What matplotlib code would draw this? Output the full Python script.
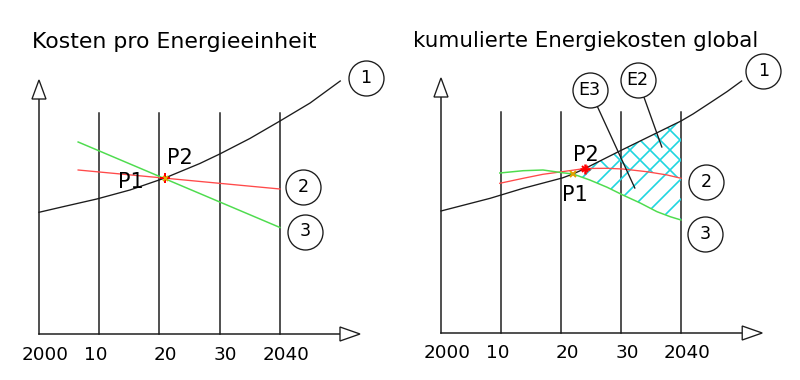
import matplotlib
matplotlib.use("Agg")
import matplotlib.pyplot as plt
from matplotlib.patches import Polygon
import numpy as np

plt.rcParams["font.family"] = ["DejaVu Sans"]

# --- data -------------------------------------------------------------
tick_years = [2000, 2010, 2020, 2030, 2040]
tick_labels = ["2000", "10", "20", "30", "2040"]

# left: Kosten pro Energieeinheit
l_k1_x = [2000, 2004.0, 2009.6, 2015.1, 2020.9, 2026.7, 2030.0, 2035.0, 2040, 2045.0, 2050.0]
l_k1_y = [12.17, 12.73, 13.5, 14.4, 15.6, 17.05, 18.0, 19.55, 21.3, 23.1, 25.3]
l_k2_x = [2006.5, 2040]
l_k2_y = [16.4, 14.5]
l_k3_x = [2006.5, 2040]
l_k3_y = [19.2, 10.65]
l_p = (2020.9, 15.6)

# right: kumulierte Energiekosten global
r_k1_x = [2000, 2008.2, 2013.7, 2020.2, 2022, 2024, 2029.8, 2040, 2042, 2044.8, 2047.7, 2050.1]
r_k1_y = [12.2, 13.47, 14.47, 15.5, 15.9, 16.45, 18.2, 21.2, 21.9, 23.0, 24.15, 25.2]
r_k2_x = [2009.8, 2013.7, 2017.0, 2020.2, 2024, 2027.7, 2030.3, 2034.3, 2037.7, 2040]
r_k2_y = [14.97, 15.47, 15.87, 16.13, 16.45, 16.47, 16.4, 16.13, 15.8, 15.47]
r_k3_x = [2009.8, 2013.7, 2017.0, 2020.2, 2022, 2024.8, 2027.7, 2030.3, 2033.2, 2036.0, 2038.2, 2040]
r_k3_y = [16.0, 16.23, 16.3, 16.03, 15.9, 15.3, 14.57, 13.8, 13.0, 12.13, 11.63, 11.3]
r_p1 = (2022, 15.9)
r_p2 = (2024, 16.45)

BLACK = "#1c1c1c"
RED = "#ff4a4a"
GREEN = "#4fdc4f"
CYAN = "#1fd6e0"

fig = plt.figure(figsize=(800 / 120, 380 / 120), dpi=120)
axL = fig.add_axes([0, 0, 0.5, 1])
axR = fig.add_axes([0.5, 0, 0.5, 1])
axL.set_xlim(1993.53, 2059.92)
axL.set_ylim(-4.6, 33.4)
axR.set_xlim(1993.17, 2059.83)
axR.set_ylim(-4.7, 33.3)


def open_arrow(ax, x, y, up, sx, sy):
    # hollow triangle, size in pixels converted to data units
    if up:
        pts = [(x - 7 / sx, y), (x + 7 / sx, y), (x, y + 19 / sy)]
    else:
        pts = [(x, y - 7 / sy), (x, y + 7 / sy), (x + 20 / sx, y)]
    ax.add_patch(Polygon(pts, closed=True, fc="white", ec=BLACK, lw=0.8, zorder=3))


def circle_label(ax, x, y, txt, tx=None, ty=None):
    if tx is not None:
        ax.plot([x, tx], [y, ty], color=BLACK, lw=0.8, zorder=4)
    ax.plot(x, y, "o", ms=21, mfc="white", mec=BLACK, mew=0.8, zorder=5)
    ax.text(x, y, txt, ha="center", va="center", fontsize=10.5, zorder=6)


def frame(ax, sx, sy, x_end, y_top, label_y):
    ax.axis("off")
    for yr in tick_years[1:]:
        ax.plot([yr, yr], [0, 22.1], color=BLACK, lw=0.9, zorder=1)
    ax.plot([2000, 2000], [0, y_top], color=BLACK, lw=0.9, zorder=1)
    ax.plot([2000, x_end], [0, 0], color=BLACK, lw=0.9, zorder=1)
    open_arrow(ax, 2000, y_top, True, sx, sy)
    open_arrow(ax, x_end, 0, False, sx, sy)
    for yr, lab in zip(tick_years, tick_labels):
        off = 1.0 if yr != 2010 else -0.5
        ax.text(yr + off, label_y, lab, ha="center", va="baseline", fontsize=11)


# left panel
frame(axL, 6.025, 10, 2049.96, 23.5, -2.6)
axL.plot(l_k1_x, l_k1_y, color=BLACK, lw=0.8, zorder=2)
axL.plot(l_k2_x, l_k2_y, color=RED, lw=0.8, zorder=2)
axL.plot(l_k3_x, l_k3_y, color=GREEN, lw=0.9, zorder=2)
axL.plot(*l_p, marker="+", color="red", ms=6, mew=1.2, zorder=3)
axL.plot(*l_p, marker="x", color="#e0b000", ms=3, mew=1, zorder=3)
axL.text(2023.4, 17.6, "P2", ha="center", va="center", fontsize=12.5)
axL.text(2015.3, 15.2, "P1", ha="center", va="center", fontsize=12.5)
circle_label(axL, l_k1_x[-1] + 4.3, l_k1_y[-1] + 0.3, "1")
circle_label(axL, l_k2_x[-1] + 3.8, l_k2_y[-1] + 0.2, "2")
circle_label(axL, l_k3_x[-1] + 4.2, l_k3_y[-1] - 0.4, "3")

# right panel
frame(axR, 6.0, 10, 2050.2, 23.6, -2.5)
k1x = np.array(r_k1_x)
k1y = np.array(r_k1_y)
k2x = np.array(r_k2_x)
k2y = np.array(r_k2_y)
k3x = np.array(r_k3_x)
k3y = np.array(r_k3_y)

# E3 + E2 (single hatch): between curve 1 and curve 3 from P1 to 2040
m1 = (k1x >= r_p1[0]) & (k1x <= 2040)
m3 = k3x >= r_p1[0]
e_area = np.vstack([np.column_stack([k1x[m1], k1y[m1]]),
                    np.column_stack([k3x[m3], k3y[m3]])[::-1]])
axR.add_patch(Polygon(e_area, closed=True, fc="none", ec=CYAN, lw=0,
                      hatch="//", zorder=1.5))
# E2 (cross hatch): between curve 1 and curve 2 from P2 to 2040
m1b = (k1x >= r_p2[0]) & (k1x <= 2040)
m2 = k2x >= r_p2[0]
e2_area = np.vstack([np.column_stack([k1x[m1b], k1y[m1b]]),
                     np.column_stack([k2x[m2], k2y[m2]])[::-1]])
axR.add_patch(Polygon(e2_area, closed=True, fc="none", ec=CYAN, lw=0,
                      hatch="\\\\", zorder=1.5))

axR.plot(k1x, k1y, color=BLACK, lw=0.8, zorder=2)
axR.plot(k2x, k2y, color=RED, lw=0.8, zorder=2)
axR.plot(k3x, k3y, color=GREEN, lw=0.9, zorder=2)
axR.plot(*r_p1, marker="x", color="#e0a000", ms=4, mew=1.2, zorder=3)
axR.plot(*r_p2, marker="+", color="red", ms=6, mew=1.5, zorder=3)
axR.plot(*r_p2, marker="x", color="red", ms=4, mew=1.2, zorder=3)
axR.text(2024.2, 17.8, "P2", ha="center", va="center", fontsize=12.5)
axR.text(2022.3, 13.8, "P1", ha="center", va="center", fontsize=12.5)
circle_label(axR, k1x[-1] + 3.6, k1y[-1] + 1.0, "1")
circle_label(axR, k2x[-1] + 4.2, k2y[-1] - 0.4, "2")
circle_label(axR, k3x[-1] + 4.0, k3y[-1] - 1.4, "3")
circle_label(axR, 2024.8, 24.3, "E3", 2032.3, 14.5)
circle_label(axR, 2032.8, 25.3, "E2", 2036.8, 18.6)

fig.text(32 / 800, 1 - 48 / 380, "Kosten pro Energieeinheit",
         ha="left", va="baseline", fontsize=13.2)
fig.text(413 / 800, 1 - 47 / 380, "kumulierte Energiekosten global",
         ha="left", va="baseline", fontsize=12.8)

fig.savefig("out.png", dpi=120)
